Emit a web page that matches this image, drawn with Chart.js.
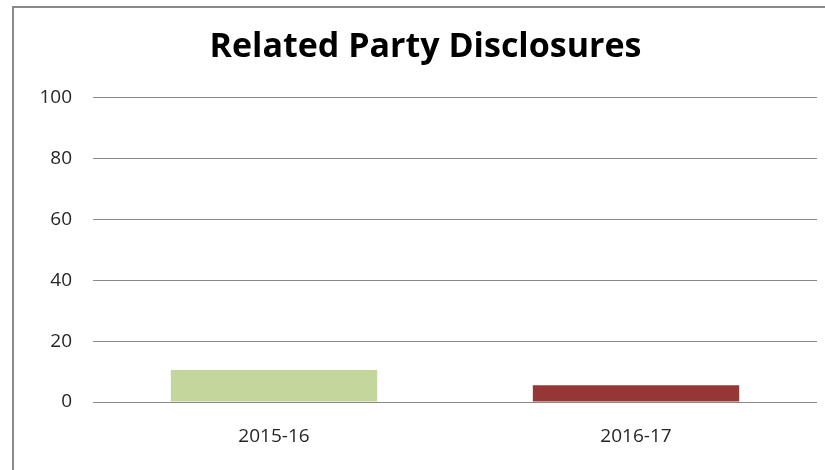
<!DOCTYPE html>
<html>
<head>
<meta charset="utf-8">
<script src="https://cdn.jsdelivr.net/npm/chart.js@4"></script>
<style>
    body { margin: 0; background: #fff; }
    #wrap { position: relative; width: 825px; height: 470px; overflow: hidden; }
    #frame {
        position: absolute; left: 12px; top: 6px; width: 900px; height: 500px;
        border-left: 2px solid #8a8a8a; border-top: 2px solid #8a8a8a;
        pointer-events: none;
    }
    canvas { position: absolute; left: 0; top: 0; }
</style>
</head>
<body>
<div id="wrap">
    <canvas id="chart" width="825" height="470"></canvas>
    <div id="frame"></div>
</div>
<script>
// ==========================================
// Data
// ==========================================

const years = ['2015-16', '2016-17'];
const disclosures = [10.5, 5.5];
const barColors = ['#c3d69b', '#953735'];
const yTicks = [0, 20, 40, 60, 80, 100];

const chartTitle = 'Related Party Disclosures';
const FONT = '"Open Sans", Lato, sans-serif';

// ==========================================
// Chart
// ==========================================

function createChart() {
    const ctx = document.getElementById('chart').getContext('2d');

    new Chart(ctx, {
        type: 'bar',
        data: {
            labels: years,
            datasets: [{
                data: disclosures,
                backgroundColor: barColors,
                borderWidth: 0,
                categoryPercentage: 1,
                barPercentage: 0.57
            }]
        },
        options: {
            responsive: false,
            animation: false,
            layout: {
                // left padding shifts the title centre to match the picture
                padding: { top: 27, right: 8, bottom: 0, left: 34 }
            },
            scales: {
                x: {
                    grid: { display: false, drawTicks: false },
                    border: { display: false },
                    ticks: {
                        padding: 23,
                        color: '#262626',
                        font: { family: FONT, size: 19 }
                    },
                    afterFit(scale) { scale.height = 68; }
                },
                y: {
                    min: yTicks[0],
                    max: yTicks[yTicks.length - 1],
                    ticks: {
                        stepSize: 20,
                        padding: 21,
                        color: '#262626',
                        font: { family: FONT, size: 19 }
                    },
                    grid: { color: '#8a8a8a', drawTicks: false, lineWidth: 1 },
                    border: { display: false },
                    afterFit(scale) { scale.width = 59; }
                }
            },
            plugins: {
                legend: { display: false },
                tooltip: { enabled: false },
                title: {
                    display: true,
                    text: chartTitle,
                    color: '#000',
                    font: { family: FONT, size: 34, weight: 'bold' },
                    padding: { top: 0, bottom: 30 }
                }
            }
        }
    });
}

createChart();
</script>
</body>
</html>
